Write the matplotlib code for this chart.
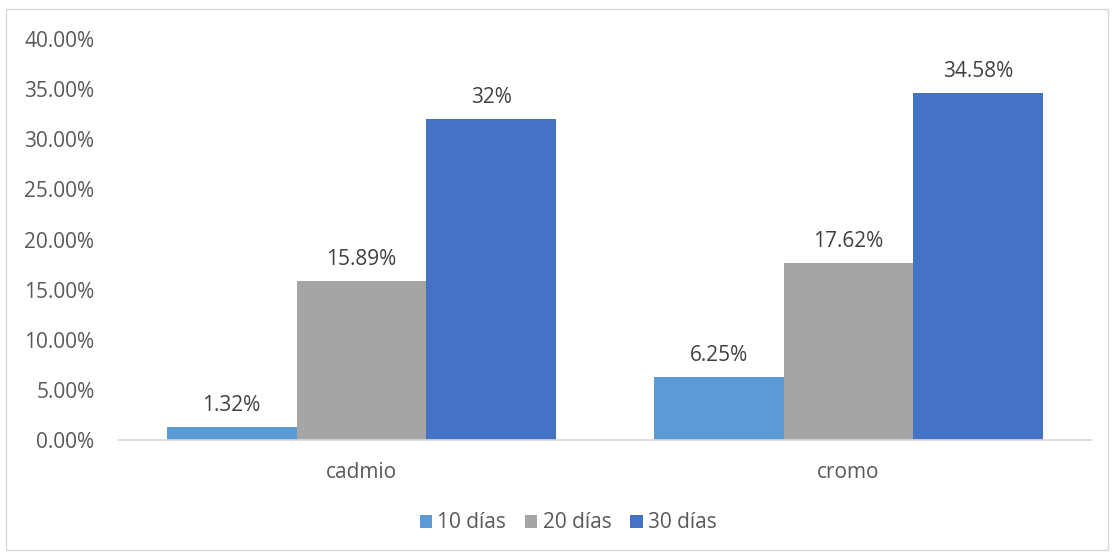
import numpy as np
import matplotlib.pyplot as plt
from matplotlib.patches import Rectangle
from matplotlib.ticker import FuncFormatter

categories = ["cadmio", "cromo"]
series = ["10 días", "20 días", "30 días"]
d10 = [0.0132, 0.0625]
d20 = [0.1589, 0.1762]
d30 = [0.32, 0.3458]
labels10 = ["1.32%", "6.25%"]
labels20 = ["15.89%", "17.62%"]
labels30 = ["32%", "34.58%"]
colors = ["#5B9BD5", "#A5A5A5", "#4472C4"]

plt.rcParams['font.family'] = ['Open Sans', 'DejaVu Sans']
fs = 15

fig = plt.figure(figsize=(11.14, 5.56), dpi=100)
ax = fig.add_axes([118 / 1114, 1 - 440 / 556, 974 / 1114, 401 / 556])

# chart border
fig.patches.append(Rectangle((6 / 1114, 1 - 550 / 556), 1102 / 1114, 541 / 556,
                             transform=fig.transFigure, fill=False,
                             edgecolor='#D9D9D9', lw=1))

x = np.arange(len(categories))
w = 0.8 / 3
for i, (vals, labs) in enumerate([(d10, labels10), (d20, labels20), (d30, labels30)]):
    bars = ax.bar(x + (i - 1) * w, vals, w, color=colors[i], label=series[i])
    for b, lab in zip(bars, labs):
        ax.annotate(lab, (b.get_x() + b.get_width() / 2, b.get_height()),
                    xytext=(0, 8), textcoords='offset points',
                    ha='center', va='bottom', fontsize=fs, color='#404040')

ax.set_xlim(-0.5, 1.5)
ax.set_ylim(0, 0.40)
ax.set_yticks(np.arange(0, 0.401, 0.05))
ax.yaxis.set_major_formatter(FuncFormatter(lambda v, p: f"{v * 100:.2f}%"))
ax.set_xticks(x)
ax.set_xticklabels(categories)
ax.tick_params(axis='both', length=0, labelsize=fs, labelcolor='#595959')
ax.tick_params(axis='x', pad=16)
ax.tick_params(axis='y', pad=17)
for s in ['top', 'right', 'left']:
    ax.spines[s].set_visible(False)
ax.spines['bottom'].set_color('#D9D9D9')
ax.spines['bottom'].set_linewidth(1.2)

leg = fig.legend(loc='center', bbox_to_anchor=(568 / 1114, 1 - 523 / 556), ncol=3,
                 frameon=False, fontsize=fs, handlelength=0.6, handleheight=0.6,
                 handletextpad=0.25, columnspacing=0.9)
for t in leg.get_texts():
    t.set_color('#595959')

fig.savefig("out.png", dpi=100)
